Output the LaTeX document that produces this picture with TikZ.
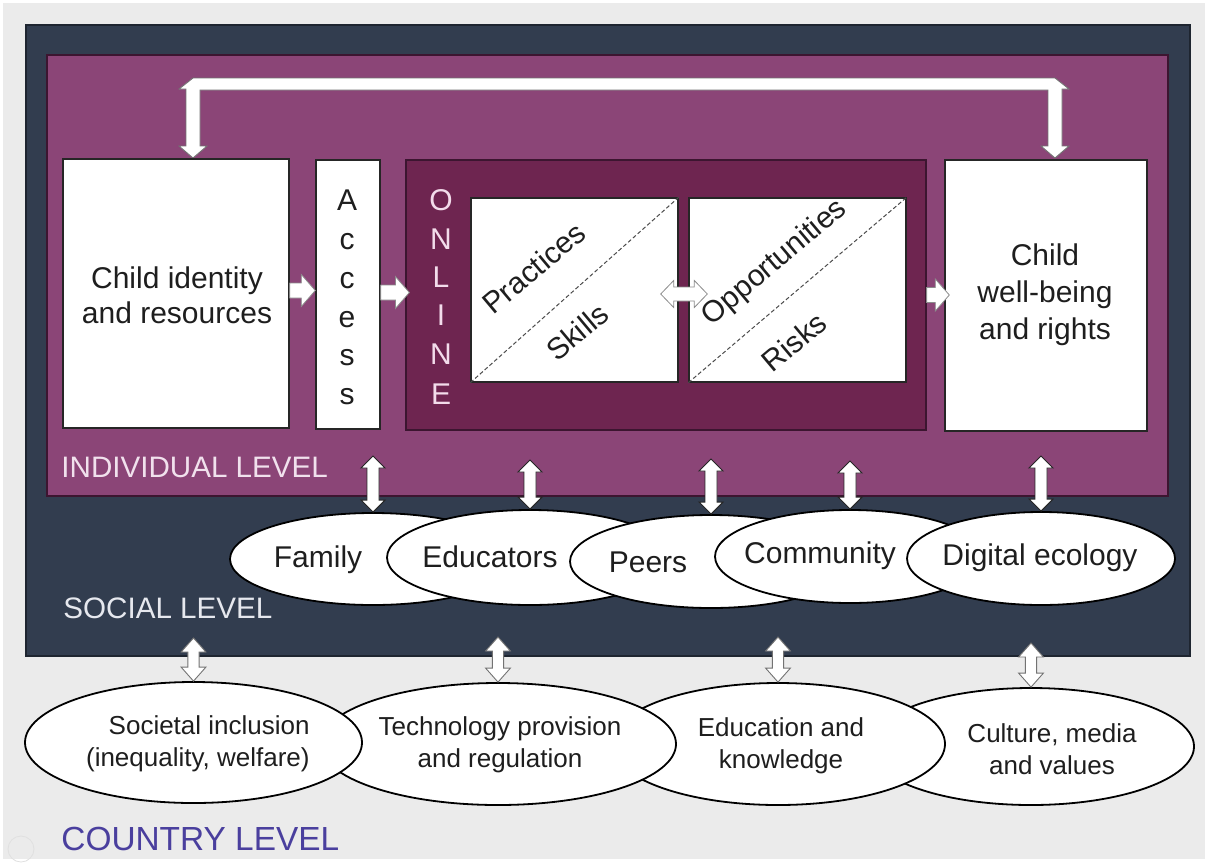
\documentclass[tikz,border=0pt]{standalone}
\usepackage{fontspec}
\setmainfont{Liberation Sans}
\usetikzlibrary{calc,fit,shapes.geometric}
\definecolor{bggray}{HTML}{EBEBEB}
\definecolor{navy}{HTML}{323D4F}
\definecolor{navyedge}{HTML}{1E2530}
\definecolor{purp}{HTML}{8B4577}
\definecolor{purpedge}{HTML}{3C1530}
\definecolor{dpurp}{HTML}{6E2550}
\definecolor{pinkt}{HTML}{F3DCEB}
\definecolor{indt}{HTML}{F1E1ED}
\definecolor{soct}{HTML}{E6E8EE}
\definecolor{countryc}{HTML}{4A3F9E}
\definecolor{txt}{HTML}{1E1E1E}
% vertical double block arrow: style, top coord, bottom coord, shaft half, head half, head length
\newcommand\vdarr[6]{\draw[#1] let \p1=#2, \p2=#3 in
  (\x1,\y1) -- (\x1+#5,\y1-#6) -- (\x1+#4,\y1-#6) -- (\x1+#4,\y2+#6) -- (\x1+#5,\y2+#6)
  -- (\x1,\y2) -- (\x1-#5,\y2+#6) -- (\x1-#4,\y2+#6) -- (\x1-#4,\y1-#6) -- (\x1-#5,\y1-#6) -- cycle;}
% right block arrow
\newcommand\hrarr[6]{\draw[#1] let \p1=#2, \p2=#3 in
  (\x1,\y1+#4) -- (\x2-#6,\y1+#4) -- (\x2-#6,\y1+#5) -- (\x2,\y1) -- (\x2-#6,\y1-#5)
  -- (\x2-#6,\y1-#4) -- (\x1,\y1-#4) -- cycle;}
% horizontal double block arrow
\newcommand\hdarr[6]{\draw[#1] let \p1=#2, \p2=#3 in
  (\x1,\y1) -- (\x1+#6,\y1+#5) -- (\x1+#6,\y1+#4) -- (\x2-#6,\y1+#4) -- (\x2-#6,\y1+#5)
  -- (\x2,\y1) -- (\x2-#6,\y1-#5) -- (\x2-#6,\y1-#4) -- (\x1+#6,\y1-#4) -- (\x1+#6,\y1-#5) -- cycle;}
\begin{document}
\begin{tikzpicture}[x=0.5pt,y=-0.5pt,
  wbox/.style={draw=black!85, line width=0.7pt, fill=white, inner sep=0pt},
  ell/.style={ellipse, draw=black, line width=0.9pt, fill=white, inner sep=0pt},
  mtxt/.style={text=txt, font=\fontsize{15}{17.5}\selectfont, inner sep=0pt, align=center},
  ctxt/.style={text=txt, font=\fontsize{13}{16}\selectfont, inner sep=0pt, align=center},
  lvl/.style={anchor=west, inner sep=0pt, font=\fontsize{14.8}{17}\selectfont},
  sarr/.style={fill=white, draw=black!85, line width=0.45pt},
  carr/.style={fill=white, draw=black!55, line width=0.45pt},
  harr/.style={fill=white, draw=black!45, line width=0.4pt},
  diag/.style={draw=black!70, line width=0.5pt, dash pattern=on 2pt off 1.2pt}]
\useasboundingbox (0,0) rectangle (1208,862);
\fill[white] (0,0) rectangle (1208,862);
\fill[bggray] (3,3) rectangle (1205,859);
% level frames
\node[draw=navyedge, line width=0.6pt, fill=navy, inner sep=0pt, fit={(26,25) (1190,656)}] (social) {};
\node[draw=purpedge, line width=0.7pt, fill=purp, inner sep=0pt, fit={(47,55) (1168,496)}] (indiv) {};
% top bracket arrow
\draw[fill=white, draw=black!55, line width=0.45pt]
  (193,78) -- (1055,78) -- (1069,89) -- (1062,89) -- (1062,146) -- (1069,146) -- (1055,158)
  -- (1041,146) -- (1048,146) -- (1048,90) -- (200,90) -- (200,146) -- (207,146) -- (193,158)
  -- (179,146) -- (186,146) -- (186,89) -- (179,89) -- cycle;
% boxes
\node[wbox, fit={(63,159) (289,428)}] (child) {};
\node[mtxt] (childt) at (177,295) {Child identity\\and resources};
\node[wbox, fit={(316,160) (380,429)}] (acc) {};
\foreach \l/\yy [count=\i] in {A/200,c/242,c/281,e/320,s/358,s/397}
  \node[text=txt, font=\fontsize{15}{17}\selectfont, inner sep=0pt] (acc\i) at (347,\yy) {\l};
\node[draw=purpedge, line width=0.6pt, fill=dpurp, inner sep=0pt, fit={(406,160) (926,430)}] (onl) {};
\foreach \l/\yy [count=\i] in {O/200,N/239,L/277,I/315,N/354,E/394}
  \node[text=pinkt, font=\fontsize{15}{17}\selectfont, inner sep=0pt] (onl\i) at (441,\yy) {\l};
\node[wbox, fit={(471,198) (678,382)}] (ps) {};
\draw[diag] (ps.south west) -- (ps.north east);
\node[mtxt, rotate=40] (prt) at (534,268) {Practices};
\node[mtxt, rotate=40] (skt) at (577,332) {Skills};
\node[wbox, fit={(689,198) (906,382)}] (or) {};
\draw[diag] (or.south west) -- (or.north east);
\node[mtxt, rotate=40] (opt) at (775,263) {Opportunities};
\node[mtxt, rotate=40] (rkt) at (794,342) {Risks};
\node[wbox, fit={(945,160) (1147,431)}] (wb) {};
\node[mtxt, font=\fontsize{15}{18.5}\selectfont] (wbt) at (1045,295) {Child\\well-being\\and rights};
% horizontal arrows
\hrarr{harr}{($(child.east)+(0,-3)$)}{($(acc.west)+(0,-3)$)}{3.75pt}{8pt}{7pt}
\hrarr{harr}{($(acc.east)+(0,-2)$)}{($(onl.west)+(4,-2)$)}{3.75pt}{8pt}{7pt}
\hrarr{harr}{(onl.east)}{($(wb.west)+(5,0)$)}{3.75pt}{8pt}{7pt}
\hdarr{harr}{($(ps.east)+(-18,4)$)}{($(or.west)+(19,4)$)}{3.5pt}{6.75pt}{6.5pt}
% level labels
\node[lvl, text=indt] (indl) at (61,467) {INDIVIDUAL LEVEL};
\node[lvl, text=soct] (socl) at (63,608) {SOCIAL LEVEL};
% social ellipses
\node[ell, minimum width=143pt, minimum height=46pt] (fam) at (373,559) {};
\node[ell, minimum width=143pt, minimum height=47.5pt] (edu) at (530,557.5) {};
\node[ell, minimum width=141pt, minimum height=46.5pt] (peer) at (711,561.5) {};
\node[ell, minimum width=135pt, minimum height=46.5pt] (comm) at (850,556.5) {};
\node[ell, minimum width=134pt, minimum height=46.5pt] (dig) at (1041,558.5) {};
\node[mtxt] (famt) at (318,560) {Family};
\node[mtxt] (edut) at (490,557) {Educators};
\node[mtxt] (peert) at (648,562) {Peers};
\node[mtxt] (commt) at (820,556) {Community};
\node[mtxt] (digt) at (1040,558) {Digital ecology};
% social arrows
\vdarr{sarr}{(fam.north |- 0,456)}{(fam.north)}{3pt}{6pt}{6pt}
\vdarr{sarr}{(edu.north |- 0,460)}{(edu.north)}{3pt}{6pt}{6pt}
\vdarr{sarr}{(peer.north |- 0,459)}{(peer.north)}{3pt}{6pt}{6pt}
\vdarr{sarr}{(comm.north |- 0,461)}{(comm.north)}{3pt}{6pt}{6pt}
\vdarr{sarr}{(dig.north |- 0,456)}{(dig.north)}{3pt}{6pt}{6pt}
% country ellipses (right to left)
\node[ell, minimum width=163pt, minimum height=58.5pt] (cul) at (1031,746.5) {};
\node[ell, minimum width=167pt, minimum height=61pt] (educ) at (778,744) {};
\node[ell, minimum width=178pt, minimum height=61pt] (tech) at (498,744) {};
\node[ell, minimum width=168.5pt, minimum height=60.5pt] (soc) at (193.5,742.5) {};
\node[ctxt, align=right, anchor=east] (soct) at (310,744) {Societal inclusion\\(inequality, welfare)};
\node[ctxt] (techt) at (500,745) {Technology provision\\and regulation};
\node[ctxt] (educt) at (781,746) {Education and\\knowledge};
\node[ctxt] (cult) at (1052,749) {Culture, media\\and values};
% country arrows
\vdarr{carr}{(soc.north |- 0,638)}{(soc.north)}{2.8pt}{6.2pt}{7pt}
\vdarr{carr}{(tech.north |- 0,637)}{(tech.north)}{2.8pt}{6.2pt}{7pt}
\vdarr{carr}{(educ.north |- 0,637)}{(educ.north)}{2.8pt}{6.2pt}{7pt}
\vdarr{carr}{(cul.north |- 0,643)}{(cul.north)}{2.8pt}{6.2pt}{7pt}
\node[lvl, text=countryc, font=\fontsize{16.7}{19}\selectfont] (cntl) at (61,839) {COUNTRY LEVEL};
\node[circle, draw=black!12, line width=0.4pt, minimum size=13pt, inner sep=0pt] (dot) at (21,849) {};
\end{tikzpicture}
\end{document}
